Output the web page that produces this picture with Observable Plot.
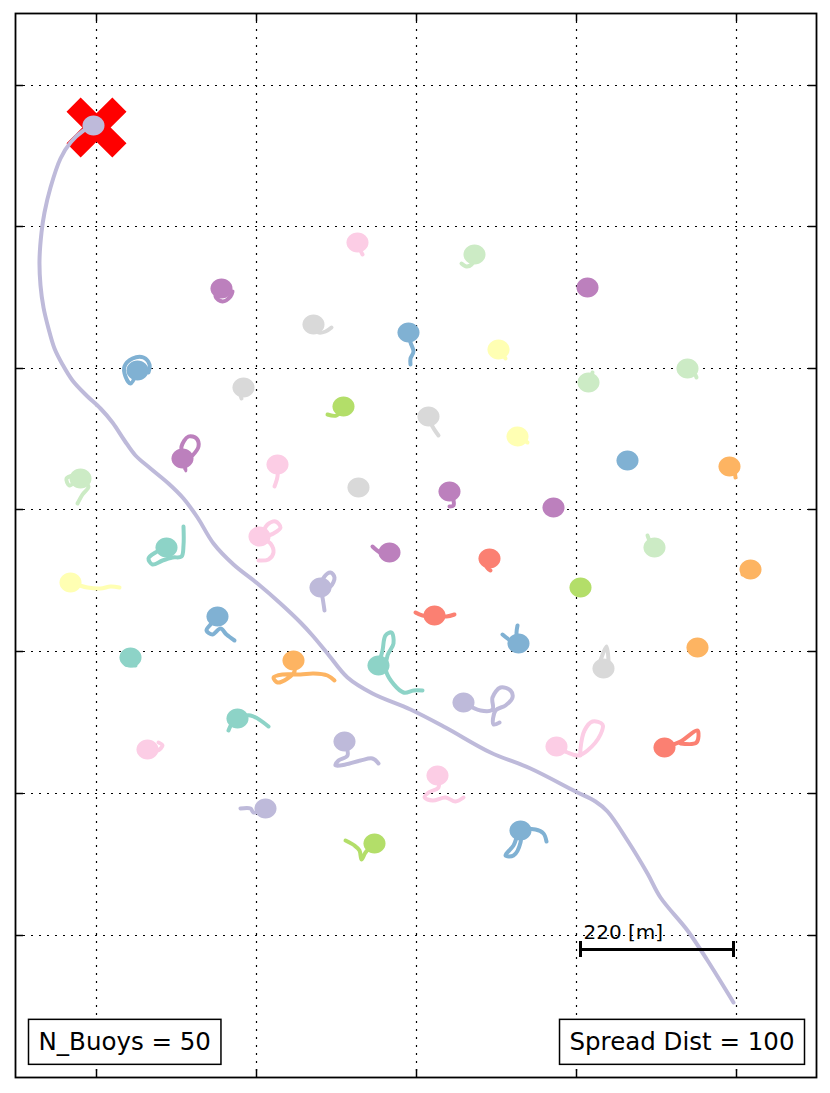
<!DOCTYPE html>
<html>
<head>
<meta charset="utf-8">
<script src="https://cdn.jsdelivr.net/npm/d3@7"></script>
<script src="https://cdn.jsdelivr.net/npm/@observablehq/plot@0.6"></script>
<style>
  body { margin: 0; background: #fff; }
  #chart { width: 830px; height: 1093px; }
</style>
</head>
<body>
<div id="chart"></div>
<script>
// ---------- data (picture units: x east, y south) ----------
const gridX = [96, 256, 416, 576, 736];
const gridY = [85, 226, 368, 509, 651, 793, 935];

// Set3 colour index of each buoy
const buoyGroup = [2, 7, 10, 9, 8, 4, 1, 9, 10, 10, 1, 4, 5, 9, 9, 4, 8, 6, 8, 9,
                   7, 8, 10, 0, 7, 9, 1, 3, 10, 5, 6, 2, 3, 4, 4, 0, 5, 8, 5, 0,
                   2, 0, 7, 2, 7, 3, 7, 2, 6, 4];

// current buoy positions
const buoyDot = [
  [93,125],[357,242],[474,254],[221,288],[313,324],[408,332],[498,349],[587,287],[687,368],[588,382],
  [517,436],[627,460],[729,466],[449,491],[553,507],[137,370],[243,387],[343,406],[428,416],[182,458],
  [277,464],[358,487],[80,478],[166,547],[259,536],[389,552],[70,582],[489,558],[654,547],[750,569],
  [580,587],[320,587],[434,615],[217,616],[518,643],[130,657],[697,647],[603,668],[293,660],[378,665],
  [463,702],[237,718],[147,749],[344,741],[556,746],[664,747],[437,775],[265,808],[374,843],[520,830]
];

// drift trails
const trails = [
  [[93,125],[83,130],[70,142],[60,158],[50,187],[44,212],[41,232],[39,260],[40,285],[43,307],[48,328],[54,348],
   [62,364],[72,380],[86,395],[100,408],[112,422],[124,440],[135,455],[150,468],[168,483],[183,498],[197,517],
   [213,543],[233,564],[257,583],[280,603],[300,622],[312,635],[327,653],[347,677],[372,693],[410,709],[445,727],
   [490,752],[530,768],[575,791],[595,801],[607,811],[627,840],[647,873],[660,897],[687,930],[707,960],[733,1002]],
  [[357,242],[360,250],[362,254]],
  [[474,256],[471,264],[466,266],[461,263]],
  [[221,288],[215,296],[222,301],[230,296],[232,291]],
  [[313,324],[318,332],[325,331],[331,327]],
  [[408,332],[410,342],[413,351],[410,358],[410,364]],
  [[498,349],[503,355],[505,358]],
  [[587,287],[590,292]],
  [[687,368],[694,373],[696,377]],
  [[588,382],[591,375],[592,372]],
  [[517,436],[524,440],[527,442]],
  [[627,460],[627,461]],
  [[729,466],[734,472],[735,477]],
  [[449,491],[453,500],[453,505],[449,506]],
  [[553,507],[553,508]],
  [[137,370],[130,383],[125,376],[124,366],[132,358],[143,357],[149,364],[148,372]],
  [[243,387],[240,394],[241,398]],
  [[343,406],[336,415],[327,414]],
  [[428,416],[432,426],[438,435]],
  [[182,458],[185,470],[183,458],[181,446],[188,436],[196,438],[198,446],[192,455]],
  [[277,464],[277,476],[274,486]],
  [[358,487],[358,488]],
  [[77,503],[82,494],[88,486],[80,478],[69,485],[66,478],[73,475]],
  [[183,526],[183,545],[181,556],[172,557],[162,560],[152,564],[148,558],[155,552],[166,547]],
  [[258,560],[268,559],[273,552],[270,543],[262,537],[267,524],[275,521],[280,527],[273,533],[262,537]],
  [[389,552],[380,552],[372,546]],
  [[70,582],[87,587],[100,588],[110,586],[119,587]],
  [[489,558],[486,566],[490,570]],
  [[654,547],[649,540],[647,535]],
  [[750,569],[742,574]],
  [[580,587],[582,580]],
  [[324,610],[322,597],[320,587],[324,576],[330,572],[334,577],[330,586],[320,590]],
  [[415,612],[422,615],[434,615],[446,616],[454,614]],
  [[217,616],[210,624],[206,630],[212,634],[220,628],[226,634],[234,640]],
  [[517,625],[516,633],[518,643],[510,640],[502,634]],
  [[130,657],[125,664],[135,665]],
  [[697,647],[690,648]],
  [[600,660],[606,646],[608,660]],
  [[293,660],[294,671],[287,678],[277,682],[273,677],[282,674],[300,674],[313,673],[327,675],[334,680]],
  [[378,665],[382,650],[385,635],[391,632],[393,643],[387,655],[386,672],[403,692],[413,690],[422,690]],
  [[463,702],[480,710],[492,709],[492,697],[500,687],[510,690],[512,697],[505,705],[495,710],[493,724],[499,722]],
  [[228,730],[232,722],[237,718],[250,715],[268,726]],
  [[147,749],[157,750],[162,745],[158,742]],
  [[344,741],[347,755],[338,760],[335,765],[345,764],[360,760],[372,758],[378,763]],
  [[556,746],[567,752],[578,755],[587,750],[600,734],[602,724],[592,721],[584,730],[580,748],[580,755]],
  [[664,747],[680,741],[697,730],[696,742],[680,743]],
  [[437,775],[438,787],[428,792],[424,797],[432,800],[445,797],[455,801],[463,797]],
  [[265,808],[253,812],[250,808],[240,808]],
  [[374,843],[365,852],[361,859],[359,850],[354,845],[345,840]],
  [[546,841],[543,833],[535,829],[520,830],[513,845],[505,855],[513,855],[520,842],[520,830]]
];

const releasePoint = [{x: 96, y: 127}];
const scaleBar = [{x1: 580, x2: 733, y: 949, label: "220 [m]"}];
const spreadDist = 100;

// ---------- tables ----------
const trailRows = trails.flatMap((pts, id) => pts.map(([x, y]) => ({id, group: buoyGroup[id], x, y})));
const dotRows = buoyDot.map(([x, y], id) => ({id, group: buoyGroup[id], x, y}));
const boxLabels = ["N_Buoys = " + trails.length, "Spread Dist = " + spreadDist];

// ---------- custom symbols ----------
const thickCross = {
  draw(ctx, size) {
    const r = Math.sqrt(size / Math.PI);
    const h = r / 3, L = r * Math.SQRT2 - h;
    const pts = [[h,h],[L,h],[L,-h],[h,-h],[h,-L],[-h,-L],[-h,-h],[-L,-h],[-L,h],[-h,h],[-h,L],[h,L]]
      .map(([x, y]) => [(x - y) / Math.SQRT2, (x + y) / Math.SQRT2]);
    ctx.moveTo(pts[0][0], pts[0][1]);
    for (let i = 1; i < pts.length; i++) ctx.lineTo(pts[i][0], pts[i][1]);
    ctx.closePath();
  }
};
const ellipseSym = {
  draw(ctx, size) {
    const r = Math.sqrt(size / Math.PI);
    const rx = r * 1.05, ry = r * 0.95, k = 0.5523;
    ctx.moveTo(rx, 0);
    ctx.bezierCurveTo(rx, k * ry, k * rx, ry, 0, ry);
    ctx.bezierCurveTo(-k * rx, ry, -rx, k * ry, -rx, 0);
    ctx.bezierCurveTo(-rx, -k * ry, -k * rx, -ry, 0, -ry);
    ctx.bezierCurveTo(k * rx, -ry, rx, -k * ry, rx, 0);
    ctx.closePath();
  }
};

const W = 830, H = 1093, mL = 15, mR = 14, mT = 13, mB = 16;
const frameW = W - mL - mR, frameH = H - mT - mB, tick = 8;

const chart = Plot.plot({
  width: W, height: H,
  marginLeft: mL, marginRight: mR, marginTop: mT, marginBottom: mB,
  x: {domain: [15, 816], axis: null},
  y: {domain: [13, 1077], reverse: true, axis: null},
  color: {type: "ordinal", domain: d3.range(12), range: d3.schemeSet3},
  style: {fontFamily: "DejaVu Sans", background: "white", overflow: "visible"},
  marks: [
    Plot.ruleX(gridX, {x: d => d, stroke: "#000", strokeWidth: 1.2, strokeDasharray: "2,6"}),
    Plot.ruleY(gridY, {y: d => d, stroke: "#000", strokeWidth: 1.2, strokeDasharray: "2,6"}),
    Plot.ruleX(gridX, {x: d => d, insetTop: frameH - tick, stroke: "#000", strokeWidth: 1.5}),
    Plot.ruleX(gridX, {x: d => d, insetBottom: frameH - tick, stroke: "#000", strokeWidth: 1.5}),
    Plot.ruleY(gridY, {y: d => d, insetRight: frameW - tick, stroke: "#000", strokeWidth: 1.5}),
    Plot.ruleY(gridY, {y: d => d, insetLeft: frameW - tick, stroke: "#000", strokeWidth: 1.5}),
    Plot.dot(releasePoint, {x: "x", y: "y", r: 30, symbol: thickCross, fill: "red", stroke: "none"}),
    Plot.line(trailRows, {x: "x", y: "y", z: "id", stroke: "group", strokeWidth: 4,
      curve: "catmull-rom", strokeLinecap: "round", strokeLinejoin: "round"}),
    Plot.dot(dotRows, {x: "x", y: "y", r: 10.5, symbol: ellipseSym, fill: "group", stroke: "none"}),
    Plot.link(scaleBar, {x1: "x1", x2: "x2", y1: "y", y2: "y", stroke: "#000", strokeWidth: 3}),
    Plot.ruleX(scaleBar, {x: "x1", y1: d => d.y - 8, y2: d => d.y + 8, stroke: "#000", strokeWidth: 3}),
    Plot.ruleX(scaleBar, {x: "x2", y1: d => d.y - 8, y2: d => d.y + 8, stroke: "#000", strokeWidth: 3}),
    Plot.text(scaleBar, {x: "x1", y: "y", text: "label", dx: 3, dy: -11, textAnchor: "start",
      lineAnchor: "bottom", fontSize: 20, fill: "#000"}),
    Plot.text([boxLabels[0]], {text: d => d, frameAnchor: "bottom-left", dx: 23, dy: -35,
      textAnchor: "start", lineAnchor: "middle", fontSize: 24.5, fill: "#000"}),
    Plot.text([boxLabels[1]], {text: d => d, frameAnchor: "bottom-right", dx: -22, dy: -35,
      textAnchor: "end", lineAnchor: "middle", fontSize: 24.5, fill: "#000"}),
    Plot.frame({stroke: "#000", strokeWidth: 1.8})
  ]
});

document.getElementById("chart").append(chart);

// boxes behind the two corner labels
const svgRect = chart.getBoundingClientRect();
d3.select(chart).selectAll("text").each(function() {
  if (!boxLabels.includes(this.textContent)) return;
  const b = this.getBoundingClientRect();
  const g = this.closest("g[aria-label]") || this.parentNode;
  const padX = 10, padY = 8;
  const rect = document.createElementNS("http://www.w3.org/2000/svg", "rect");
  rect.setAttribute("x", b.left - svgRect.left - padX);
  rect.setAttribute("y", b.top - svgRect.top - padY);
  rect.setAttribute("width", b.width + 2 * padX);
  rect.setAttribute("height", b.height + 2 * padY);
  rect.setAttribute("fill", "#fff");
  rect.setAttribute("stroke", "#000");
  rect.setAttribute("stroke-width", 1.5);
  g.parentNode.insertBefore(rect, g);
});
</script>
</body>
</html>
